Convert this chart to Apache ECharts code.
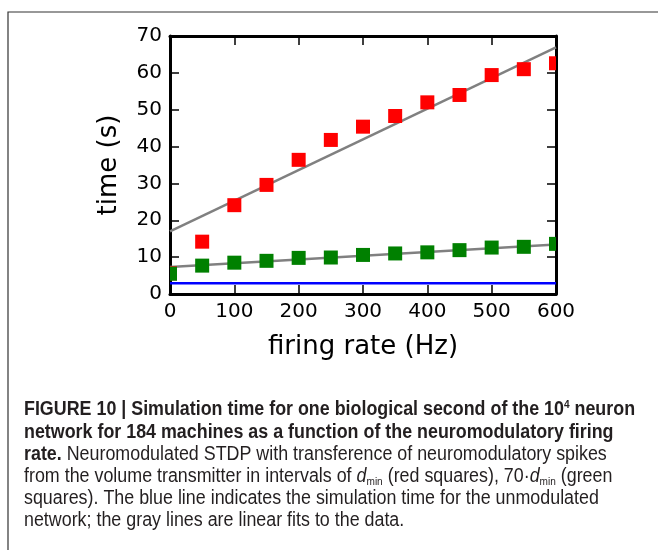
<!DOCTYPE html>
<html><head><meta charset="utf-8">
<script src="https://cdn.jsdelivr.net/npm/echarts@6/dist/echarts.min.js"></script>
<style>html,body{margin:0;padding:0;background:#fff}#c{width:658px;height:550px}</style>
</head><body><div id="c"></div>
<script>
// ---- data ----
const rates = [0, 50, 100, 150, 200, 250, 300, 350, 400, 450, 500, 550, 600];
const redTimes = [5.6, 14.2, 24.1, 29.6, 36.4, 41.8, 45.4, 48.3, 52.0, 54.0, 59.4, 61.0, 62.6];
const greenTimes = [5.5, 7.7, 8.5, 9.0, 9.8, 9.9, 10.6, 11.0, 11.3, 11.9, 12.6, 12.8, 13.6];
const redFit = [[0, 17.0], [600, 66.9]];
const greenFit = [[0, 7.3], [600, 13.4]];
const unmodulated = [[0, 2.9], [600, 2.9]];
const xRange = [0, 600, 100];
const yRange = [0, 70, 10];

const redPts = rates.map((r, i) => [r, redTimes[i]]);
const greenPts = rates.map((r, i) => [r, greenTimes[i]]);

const axisFont = 'DejaVu Sans';
const capFont = '"Liberation Sans", Arial, sans-serif';

function mkX(pos, main) {
  return {
    type: 'value', min: xRange[0], max: xRange[1], interval: xRange[2], position: pos,
    axisLine: { show: true, onZero: false, lineStyle: { color: '#000', width: 3 } },
    axisTick: { show: true, inside: true, length: 9, lineStyle: { color: '#000', width: 1.5 } },
    axisLabel: { show: main, color: '#000', fontFamily: axisFont, fontSize: 20, margin: 8 },
    splitLine: { show: false },
    name: main ? 'firing rate (Hz)' : '', nameLocation: 'middle', nameGap: 40,
    nameTextStyle: { color: '#000', fontFamily: axisFont, fontSize: 26 }
  };
}
function mkY(pos, main) {
  return {
    type: 'value', min: yRange[0], max: yRange[1], interval: yRange[2], position: pos,
    axisLine: { show: true, onZero: false, lineStyle: { color: '#000', width: 3 } },
    axisTick: { show: true, inside: true, length: 9, lineStyle: { color: '#000', width: 1.5 } },
    axisLabel: { show: main, color: '#000', fontFamily: axisFont, fontSize: 20, margin: 8 },
    splitLine: { show: false },
    name: main ? 'time (s)' : '', nameLocation: 'middle', nameGap: 48, nameRotate: 90,
    nameTextStyle: { color: '#000', fontFamily: axisFont, fontSize: 26 }
  };
}

function squareItem(color) {
  return function (params, api) {
    const p = api.coord([api.value(0), api.value(1)]);
    return { type: 'rect', shape: { x: p[0] - 7, y: p[1] - 7, width: 14, height: 14 }, style: { fill: color } };
  };
}

const capLines = [
  '{b|FIGURE 10 | Simulation time for one biological second of the 10}{sup|4}{b| neuron}',
  '{b|network for 184 machines as a function of the neuromodulatory firing}',
  '{b|rate.}{r| Neuromodulated STDP with transference of neuromodulatory spikes}',
  '{r|from the volume transmitter in intervals of }{it|d}{sub|min}{r| (red squares), 70·}{it|d}{sub|min}{r| (green}',
  '{r|squares). The blue line indicates the simulation time for the unmodulated}',
  '{r|network; the gray lines are linear fits to the data.}'
];

const chart = echarts.init(document.getElementById('c'));
chart.setOption({
  animation: false,
  backgroundColor: '#fff',
  grid: { left: 170, top: 36, width: 386, height: 258, show: false },
  xAxis: [mkX('bottom', true), mkX('top', false)],
  yAxis: [mkY('left', true), mkY('right', false)],
  series: [
    { type: 'line', data: redFit, showSymbol: false, symbol: 'none', lineStyle: { color: '#808080', width: 2.5 }, z: 2 },
    { type: 'line', data: greenFit, showSymbol: false, symbol: 'none', lineStyle: { color: '#808080', width: 2.5 }, z: 2 },
    { type: 'line', data: unmodulated, showSymbol: false, symbol: 'none', lineStyle: { color: '#0000ff', width: 2.5 }, z: 2 },
    { type: 'custom', data: redPts, renderItem: squareItem('#ff0000'), clip: true, z: 3 },
    { type: 'custom', data: greenPts, renderItem: squareItem('#008000'), clip: true, z: 4 }
  ],
  graphic: [
    { type: 'rect', shape: { x: 8, y: 12, width: 700, height: 600 }, style: { fill: 'none', stroke: '#333', lineWidth: 1.2 }, silent: true },
    {
      type: 'text', left: 24, top: 399, scaleX: 0.916,
      style: {
        text: capLines.join('\n'),
        fill: '#231f20',
        rich: {
          b: { fontFamily: capFont, fontWeight: 'bold', fontSize: 19.5, lineHeight: 22.2, fill: '#231f20' },
          r: { fontFamily: capFont, fontSize: 19.5, lineHeight: 22.2, fill: '#231f20' },
          it: { fontFamily: capFont, fontStyle: 'italic', fontSize: 19.5, lineHeight: 22.2, fill: '#231f20' },
          sup: { fontFamily: capFont, fontWeight: 'bold', fontSize: 11, lineHeight: 12, verticalAlign: 'top', fill: '#231f20' },
          sub: { fontFamily: capFont, fontSize: 11, lineHeight: 10, verticalAlign: 'bottom', fill: '#231f20' }
        }
      }
    }
  ]
});
</script></body></html>
